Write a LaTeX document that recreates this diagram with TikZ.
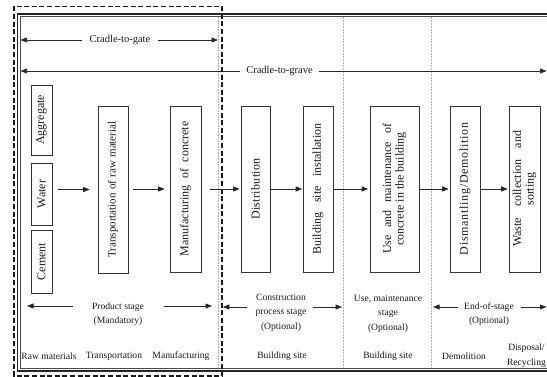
\documentclass[tikz,border=0pt]{standalone}
\usepackage{fontspec}
\setmainfont{Liberation Serif}
\usetikzlibrary{arrows.meta}
\begin{document}
\begin{tikzpicture}[x=1pt,y=-1pt,
  every node/.style={inner sep=0pt, text=black!90},
  arr/.style={-{Triangle[length=6.5pt,width=5pt]}, line width=0.7pt, draw=black!85},
  vbox/.style={draw=black!80, line width=0.7pt, rotate=90, minimum height=#1,
    align=center, font=\fontsize{12}{12.5}\selectfont},
  biglbl/.style={font=\fontsize{10.5}{12}\selectfont},
  lbl/.style={font=\fontsize{9.6}{14.5}\selectfont, align=center},
  divider/.style={draw=gray!60, densely dotted, line width=0.5pt}
]
\useasboundingbox (0,0) rectangle (547,377);
\clip (0,0) rectangle (547,377);

% outer frame (open to the right)
\draw[line width=1.3pt, black!85] (560,14) -- (17.8,14) -- (17.8,371) -- (560,371);
\draw[line width=0.5pt, black!70] (560,16.6) -- (20.6,16.6) -- (20.6,368.4) -- (560,368.4);

% stage dividers
\foreach \x in {218,343,431} \draw[divider] (\x,17) -- (\x,368);

% product-stage boundary
\draw[line width=1.7pt, black!90, dash pattern=on 5pt off 2.6pt] (13.8,6.5) rectangle (222,376);

% system boundaries
\node[biglbl] (ctg) at (120,40) {Cradle-to-gate};
\coordinate (ctgL) at (20.5,40);
\coordinate (ctgR) at (218,40);
\draw[arr, shorten <=7pt] (ctg.west) -- (ctgL);
\draw[arr, shorten <=7pt] (ctg.east) -- (ctgR);

\node[biglbl] (ctgr) at (279.5,71) {Cradle-to-grave};
\coordinate (ctgrL) at (20.5,71);
\coordinate (ctgrR) at (546.5,71);
\draw[arr, shorten <=6pt] (ctgr.west) -- (ctgrL);
\draw[arr, shorten <=6pt] (ctgr.east) -- (ctgrR);

% process boxes
\node[vbox=21pt, minimum width=70pt] (agg) at (41.5,120) {Aggregate};
\node[vbox=21pt, minimum width=62pt] (wat) at (41.5,194) {Water};
\node[vbox=21pt, minimum width=63pt] (cem) at (41.5,261.5) {Cement};
\node[vbox=30pt, minimum width=167pt] (trn) at (113,189.5)
  {\fontsize{11}{12}\selectfont\makebox[136pt][s]{Transportation of raw material}};
\node[vbox=31pt, minimum width=166pt] (mfg) at (185.5,189)
  {\makebox[135pt][s]{Manufacturing of concrete}};
\node[vbox=29pt, minimum width=166pt] (dst) at (255.5,189)
  {\addfontfeatures{LetterSpace=3}Distribution};
\node[vbox=30pt, minimum width=166pt] (bsi) at (318,189)
  {\makebox[131pt][s]{Building site installation}};
\node[vbox=49pt, minimum width=166pt] (use) at (394.5,189)
  {\makebox[130pt][s]{Use and maintenance of}\\concrete in the building};
\node[vbox=30pt, minimum width=166pt] (dem) at (465,189)
  {\addfontfeatures{LetterSpace=6}Dismantling/Demolition};
\node[vbox=31pt, minimum width=166pt] (wst) at (524.5,189)
  {\makebox[116pt][s]{Waste collection and}\\sorting};

% flow
\draw[arr, shorten <=6pt, shorten >=8pt] (wat.south |- trn.north) -- (trn.north);
\draw[arr, shorten <=5pt, shorten >=5pt] (trn.south |- mfg.north) -- (mfg.north);
\draw[arr, shorten <=9pt, shorten >=1pt] (mfg.south) -- (dst.north);
\draw[arr, shorten >=0.5pt] (dst.south) -- (bsi.north);
\draw[arr, shorten >=1.5pt] (bsi.south) -- (use.north);
\draw[arr, shorten >=1pt] (use.south) -- (dem.north);
\draw[arr, shorten >=1pt] (dem.south) -- (wst.north);

% life-cycle stages
\node[lbl] (prod) at (118,314) {Product stage\\(Mandatory)};
\coordinate (prodLa) at (73,306);  \coordinate (prodLb) at (27,306);
\coordinate (prodRa) at (164,306); \coordinate (prodRb) at (212,306);
\draw[arr] (prodLa) -- (prodLb);
\draw[arr] (prodRa) -- (prodRb);

\node[lbl] (cons) at (281,312.5) {Construction\\process stage\\(Optional)};
\coordinate (consLa) at (247,307);   \coordinate (consLb) at (222.8,307);
\coordinate (consRa) at (312.7,307); \coordinate (consRb) at (342,307);
\draw[arr] (consLa) -- (consLb);
\draw[arr] (consRa) -- (consRb);

\node[lbl] (usest) at (388,313.5) {Use, maintenance\\stage\\(Optional)};

\node[lbl] (eos) at (489,314) {End-of-stage\\(Optional)};
\coordinate (eosLa) at (458,307); \coordinate (eosLb) at (433,307);
\coordinate (eosRa) at (521,307); \coordinate (eosRb) at (546.5,307);
\draw[arr] (eosLa) -- (eosLb);
\draw[arr] (eosRa) -- (eosRb);

% locations
\node[lbl] (raw) at (49,356) {Raw materials};
\node[lbl] (tra) at (114,356) {Transportation};
\node[lbl] (man) at (181,356) {Manufacturing};
\node[lbl] (bs1) at (282,356) {Building site};
\node[lbl] (bs2) at (388,356) {Building site};
\node[lbl] (demo) at (464,356) {Demolition};
\node[lbl] (disp) at (526.5,355.5) {Disposal/\\Recycling};
\end{tikzpicture}
\end{document}
